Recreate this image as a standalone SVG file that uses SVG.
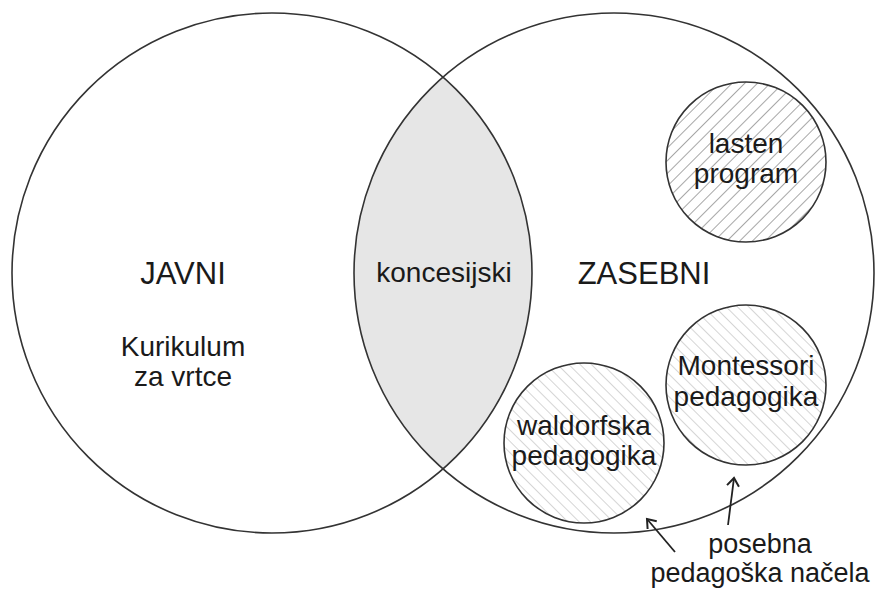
<svg xmlns="http://www.w3.org/2000/svg" width="877" height="591" viewBox="0 0 877 591">
<style>
text{font-family:"Liberation Sans",Arial,sans-serif;fill:#1a1a1a;text-anchor:middle}
.big{font-size:31px}
.mid{font-size:28px}
.sm{font-size:27px}
.ring{fill:none;stroke:#333;stroke-width:1.6}
.conn{fill:none;stroke:#222;stroke-width:1.8}
</style>
<defs>
<pattern id="hatchDark" patternUnits="userSpaceOnUse" width="9" height="9" patternTransform="rotate(45)">
<line x1="0" y1="0" x2="0" y2="9" stroke="#777" stroke-width="1.3"/>
</pattern>
<pattern id="hatchLight" patternUnits="userSpaceOnUse" width="8" height="8" patternTransform="rotate(-45)">
<line x1="0" y1="0" x2="0" y2="8" stroke="#b8b8b8" stroke-width="1.2"/>
</pattern>
<marker id="arr" markerUnits="userSpaceOnUse" markerWidth="16" markerHeight="16" refX="0" refY="0" viewBox="-10 -8 12 16" orient="auto" overflow="visible">
<path d="M-8,-6 L0,0 L-8,6" fill="none" stroke="#222" stroke-width="2"/>
</marker>
</defs>
<rect width="877" height="591" fill="#fff"/>
<g id="lens">
<path d="M443,77 A260,260 0 0,1 443,469 A260,260 0 0,1 443,77 Z" fill="#e6e6e6"/>
</g>
<g id="javni">
<circle class="ring" cx="272" cy="273" r="260"/>
<text class="big" x="183" y="284">JAVNI</text>
<text class="mid" x="183" y="356">Kurikulum</text>
<text class="mid" x="183" y="386">za vrtce</text>
</g>
<g id="zasebni">
<circle class="ring" cx="614" cy="273" r="260"/>
<text class="big" x="644" y="284">ZASEBNI</text>
</g>
<g id="koncesijski">
<text class="mid" x="444" y="282">koncesijski</text>
</g>
<g id="lasten">
<circle cx="746" cy="162" r="80" fill="url(#hatchDark)" stroke="#333" stroke-width="1.6"/>
<text class="mid" x="746" y="153">lasten</text>
<text class="mid" x="746" y="183">program</text>
</g>
<g id="montessori">
<circle cx="746" cy="385" r="80" fill="url(#hatchLight)" stroke="#333" stroke-width="1.6"/>
<text class="mid" x="746" y="375">Montessori</text>
<text class="mid" x="746" y="406">pedagogika</text>
</g>
<g id="waldorf">
<circle cx="584" cy="443" r="80" fill="url(#hatchLight)" stroke="#333" stroke-width="1.6"/>
<text class="mid" x="584" y="435">waldorfska</text>
<text class="mid" x="584" y="465">pedagogika</text>
</g>
<g id="nacela">
<text class="sm" x="760" y="553">posebna</text>
<text class="sm" x="760" y="582">pedagoška načela</text>
</g>
<g id="connectors">
<line class="conn" x1="675" y1="552" x2="647" y2="519" marker-end="url(#arr)"/>
<line class="conn" x1="728" y1="525" x2="734" y2="478" marker-end="url(#arr)"/>
</g>
</svg>
